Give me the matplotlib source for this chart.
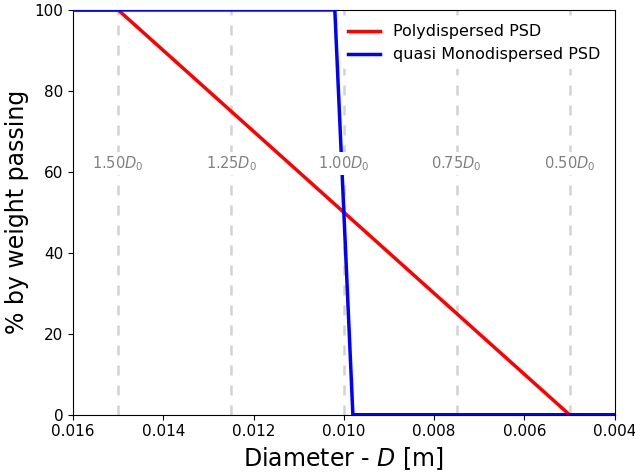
import matplotlib
matplotlib.use("Agg")
import matplotlib.pyplot as plt

# particle size distributions (diameter in m, % passing)
poly_d = [0.016, 0.015, 0.005, 0.004]
poly_pass = [100, 100, 0, 0]
mono_d = [0.016, 0.0102, 0.0098, 0.004]
mono_pass = [100, 100, 0, 0]

D0 = 0.010
ref_factors = [1.50, 1.25, 1.00, 0.75, 0.50]

fig, ax = plt.subplots(figsize=(6.35, 4.74), dpi=100)

for f in ref_factors:
    ax.axvline(f * D0, color="lightgray", ls="--", lw=1.8, dashes=(4, 4), zorder=1)
    ax.text(f * D0, 62, f"{f:.2f}$D_0$", color="gray", fontsize=10.5,
            ha="center", va="center", zorder=4,
            bbox=dict(facecolor="white", edgecolor="none", pad=1.5))

ax.plot(poly_d, poly_pass, color="red", lw=2.5, label="Polydispersed PSD", zorder=3)
ax.plot(mono_d, mono_pass, color="blue", lw=2.5, label="quasi Monodispersed PSD", zorder=3)

ax.set_xlim(0.016, 0.004)
ax.set_ylim(0, 100)
ax.tick_params(labelsize=11)
ax.set_xlabel("Diameter - $D$ [m]", fontsize=17)
ax.set_ylabel("% by weight passing", fontsize=17)
leg = ax.legend(fontsize=11.5, loc="upper right", framealpha=1)
leg.get_frame().set_edgecolor("none")

fig.subplots_adjust(left=0.115, right=0.968, top=0.979, bottom=0.125)
fig.savefig("out.png")
